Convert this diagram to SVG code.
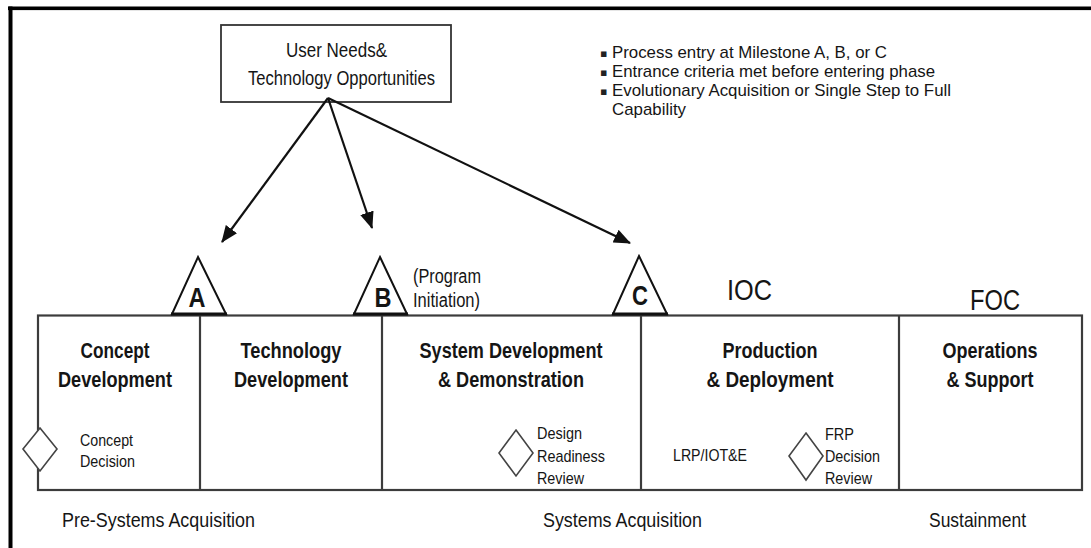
<svg xmlns="http://www.w3.org/2000/svg" width="1091" height="548" viewBox="0 0 1091 548">
<style>
.t{font-family:"Liberation Sans Narrow","Liberation Sans",Arial,sans-serif;fill:#151515}
.r{font-size:20px}
.nt{font-size:17px}
.s{font-size:17px}
.l{font-size:21px}
.b{font-size:22px;font-weight:bold}
.big{font-size:30px}
.ms{font-size:28px;font-weight:bold}
.bul{font-family:"DejaVu Sans",sans-serif;font-size:11px;fill:#222}
.box{fill:none;stroke:#3c3c3c;stroke-width:2.2}
.tri{fill:#fff;stroke:#111;stroke-width:2}
.base{stroke:#111;stroke-width:3.2}
.dia{fill:#fff;stroke:#444;stroke-width:1.6}
.arr{stroke:#111;stroke-width:2.2;fill:none}
</style>
<defs>
<marker id="ah" markerUnits="userSpaceOnUse" markerWidth="17" markerHeight="14" refX="16" refY="7" orient="auto" viewBox="0 0 17 14">
<path d="M0,0 L17,7 L0,14 z" fill="#111"/>
</marker>
</defs>
<rect x="0" y="0" width="1091" height="548" fill="#fff"/>
<g id="frame">
<rect x="8" y="6.5" width="1083" height="3.6" fill="#000"/>
<rect x="8.5" y="6.5" width="4" height="541.5" fill="#000"/>
</g>
<g id="user-needs">
<rect x="221" y="25" width="230" height="77" fill="#fff" stroke="#333" stroke-width="1.8"/>
<text class="t r" x="286" y="57" textLength="101" lengthAdjust="spacingAndGlyphs">User Needs&amp;</text>
<text class="t r" x="248" y="85" textLength="187" lengthAdjust="spacingAndGlyphs">Technology Opportunities</text>
</g>
<g id="notes">
<text class="bul" x="600" y="57">▪</text>
<text class="t nt" x="612" y="58" textLength="275" lengthAdjust="spacingAndGlyphs">Process entry at Milestone A, B, or C</text>
<text class="bul" x="600" y="76">▪</text>
<text class="t nt" x="612" y="77" textLength="323" lengthAdjust="spacingAndGlyphs">Entrance criteria met before entering phase</text>
<text class="bul" x="600" y="95">▪</text>
<text class="t nt" x="612" y="96" textLength="339" lengthAdjust="spacingAndGlyphs">Evolutionary Acquisition or Single Step to Full</text>
<text class="t nt" x="612" y="115" textLength="74" lengthAdjust="spacingAndGlyphs">Capability</text>
</g>
<g id="connectors">
<line class="arr" x1="328" y1="98" x2="222" y2="242" marker-end="url(#ah)"/>
<line class="arr" x1="328" y1="98" x2="372" y2="228" marker-end="url(#ah)"/>
<line class="arr" x1="328" y1="98" x2="630" y2="243" marker-end="url(#ah)"/>
</g>
<g id="phases">
<rect class="box" x="38" y="315.5" width="1044" height="174.5"/>
<line class="box" x1="200" y1="315" x2="200" y2="490"/>
<line class="box" x1="382" y1="315" x2="382" y2="490"/>
<line class="box" x1="641" y1="315" x2="641" y2="490"/>
<line class="box" x1="899" y1="315" x2="899" y2="490"/>
</g>
<g id="concept-development">
<text class="t b" x="115" y="358" text-anchor="middle" textLength="69" lengthAdjust="spacingAndGlyphs">Concept</text>
<text class="t b" x="115" y="387" text-anchor="middle" textLength="114" lengthAdjust="spacingAndGlyphs">Development</text>
</g>
<g id="technology-development">
<text class="t b" x="291" y="358" text-anchor="middle" textLength="101" lengthAdjust="spacingAndGlyphs">Technology</text>
<text class="t b" x="291" y="387" text-anchor="middle" textLength="114" lengthAdjust="spacingAndGlyphs">Development</text>
</g>
<g id="system-development">
<text class="t b" x="511" y="358" text-anchor="middle" textLength="183" lengthAdjust="spacingAndGlyphs">System Development</text>
<text class="t b" x="511" y="387" text-anchor="middle" textLength="146" lengthAdjust="spacingAndGlyphs">&amp; Demonstration</text>
</g>
<g id="production-deployment">
<text class="t b" x="770" y="358" text-anchor="middle" textLength="95" lengthAdjust="spacingAndGlyphs">Production</text>
<text class="t b" x="770" y="387" text-anchor="middle" textLength="127" lengthAdjust="spacingAndGlyphs">&amp; Deployment</text>
</g>
<g id="operations-support">
<text class="t b" x="990" y="358" text-anchor="middle" textLength="95" lengthAdjust="spacingAndGlyphs">Operations</text>
<text class="t b" x="990" y="387" text-anchor="middle" textLength="87" lengthAdjust="spacingAndGlyphs">&amp; Support</text>
</g>
<g id="milestone-a">
<path class="tri" d="M198,257 L226,314 L172,314 Z"/>
<line class="base" x1="171" y1="314" x2="227" y2="314"/>
<text class="t ms" x="197" y="307" text-anchor="middle" textLength="17" lengthAdjust="spacingAndGlyphs">A</text>
</g>
<g id="milestone-b">
<path class="tri" d="M380,257 L407,314 L354,314 Z"/>
<line class="base" x1="353" y1="314" x2="408" y2="314"/>
<text class="t ms" x="383" y="307" text-anchor="middle" textLength="17" lengthAdjust="spacingAndGlyphs">B</text>
<text class="t r" x="413" y="283" textLength="68" lengthAdjust="spacingAndGlyphs">(Program</text>
<text class="t r" x="413" y="307" textLength="67" lengthAdjust="spacingAndGlyphs">Initiation)</text>
</g>
<g id="milestone-c">
<path class="tri" d="M639,256 L667,314 L613,314 Z"/>
<line class="base" x1="612" y1="314" x2="668" y2="314"/>
<text class="t ms" x="640" y="305" text-anchor="middle" textLength="16" lengthAdjust="spacingAndGlyphs">C</text>
</g>
<g id="ioc">
<text class="t big" x="727" y="300" textLength="45" lengthAdjust="spacingAndGlyphs">IOC</text>
</g>
<g id="foc">
<text class="t big" x="970" y="310" textLength="50" lengthAdjust="spacingAndGlyphs">FOC</text>
</g>
<g id="concept-decision">
<path class="dia" d="M40,428 L57,449 L40,471 L23,449 Z"/>
<text class="t s" x="80" y="446" textLength="53" lengthAdjust="spacingAndGlyphs">Concept</text>
<text class="t s" x="80" y="467" textLength="55" lengthAdjust="spacingAndGlyphs">Decision</text>
</g>
<g id="design-readiness-review">
<path class="dia" d="M516,430 L533,453 L516,476 L499,453 Z"/>
<text class="t s" x="537" y="439" textLength="45" lengthAdjust="spacingAndGlyphs">Design</text>
<text class="t s" x="537" y="462" textLength="68" lengthAdjust="spacingAndGlyphs">Readiness</text>
<text class="t s" x="537" y="484" textLength="47" lengthAdjust="spacingAndGlyphs">Review</text>
</g>
<g id="lrp">
<text class="t s" x="673" y="461" textLength="74" lengthAdjust="spacingAndGlyphs">LRP/IOT&amp;E</text>
</g>
<g id="frp-decision-review">
<path class="dia" d="M806,433 L823,456 L806,480 L789,456 Z"/>
<text class="t s" x="825" y="440" textLength="29" lengthAdjust="spacingAndGlyphs">FRP</text>
<text class="t s" x="825" y="462" textLength="55" lengthAdjust="spacingAndGlyphs">Decision</text>
<text class="t s" x="825" y="484" textLength="47" lengthAdjust="spacingAndGlyphs">Review</text>
</g>
<g id="stages">
<text class="t l" x="62" y="527" textLength="193" lengthAdjust="spacingAndGlyphs">Pre-Systems Acquisition</text>
<text class="t l" x="543" y="527" textLength="159" lengthAdjust="spacingAndGlyphs">Systems Acquisition</text>
<text class="t l" x="929" y="527" textLength="97" lengthAdjust="spacingAndGlyphs">Sustainment</text>
</g>
</svg>
